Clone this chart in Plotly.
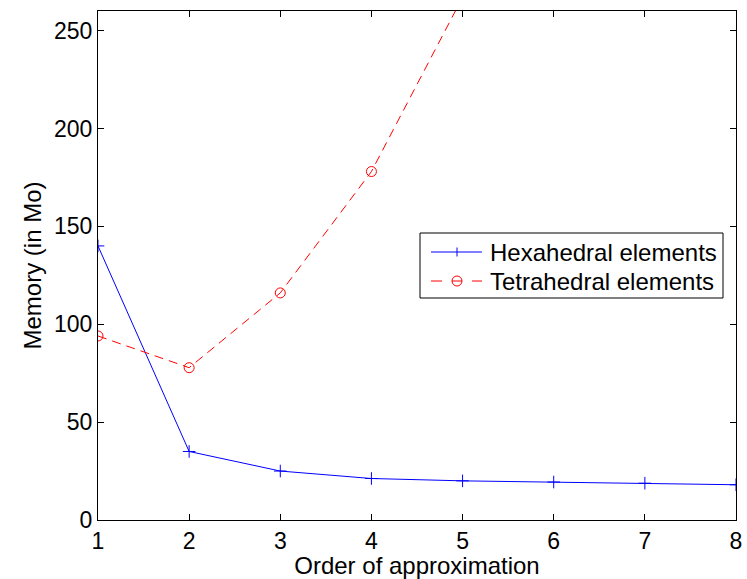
import plotly.graph_objects as go

# Memory use against polynomial order for two mesh types
order_hex = [1, 2, 3, 4, 5, 6, 7, 8]
memory_hex = [140, 35, 25, 21.2, 20, 19.4, 18.8, 18]

order_tet = [1, 2, 3, 4, 5]
memory_tet = [94, 77.8, 116, 178, 267]

series_names = ["Hexahedral elements", "Tetrahedral elements"]

x_ticks = [1, 2, 3, 4, 5, 6, 7, 8]
y_ticks = [0, 50, 100, 150, 200, 250]

FONT = "Liberation Sans, Arial, sans-serif"
W, H = 747, 579
ML, MR, MT, MB = 98, 11, 11, 59
PW, PH = W - ML - MR, H - MT - MB

BLUE, RED = "#0000ff", "#ff0000"


def px_x(px):
    """Pixel column -> paper x."""
    return (px - ML) / PW


def px_y(py):
    """Pixel row -> paper y."""
    return (H - MB - py) / PH


fig = go.Figure()
fig.add_trace(go.Scatter(
    x=order_hex, y=memory_hex, mode="lines+markers",
    name=series_names[0], showlegend=False,
    line=dict(color=BLUE, width=1),
    marker=dict(symbol="cross-thin", size=9, color=BLUE,
                line=dict(color=BLUE, width=1)),
))
fig.add_trace(go.Scatter(
    x=order_tet, y=memory_tet, mode="lines+markers",
    name=series_names[1], showlegend=False,
    line=dict(color=RED, width=1, dash="9px,6px"),
    marker=dict(symbol="circle-open", size=10, color=RED,
                line=dict(color=RED, width=1)),
))

# Boxed legend in the MATLAB style
shapes = []
annotations = []
box = dict(x0=420, x1=723, y0=233, y1=298)
shapes.append(dict(type="rect", xref="paper", yref="paper",
                   x0=px_x(box["x0"]), x1=px_x(box["x1"]),
                   y0=px_y(box["y1"]), y1=px_y(box["y0"]),
                   line=dict(color="black", width=1), fillcolor="white",
                   layer="above"))

rows = [252, 281]
line_x0, line_x1, mark_x, text_x = 431, 482, 457, 488

# row 1: solid line with a plus marker
shapes.append(dict(type="line", xref="paper", yref="paper",
                   x0=px_x(line_x0), x1=px_x(line_x1),
                   y0=px_y(rows[0]), y1=px_y(rows[0]),
                   line=dict(color=BLUE, width=1), layer="above"))
shapes.append(dict(type="line", xref="paper", yref="paper",
                   x0=px_x(mark_x), x1=px_x(mark_x),
                   y0=px_y(rows[0] - 4.5), y1=px_y(rows[0] + 4.5),
                   line=dict(color=BLUE, width=1), layer="above"))

# row 2: dashed line with an open circle
for a, b in [(431, 442), (472, 482)]:
    shapes.append(dict(type="line", xref="paper", yref="paper",
                       x0=px_x(a), x1=px_x(b),
                       y0=px_y(rows[1]), y1=px_y(rows[1]),
                       line=dict(color=RED, width=1), layer="above"))
shapes.append(dict(type="circle", xref="paper", yref="paper",
                   x0=px_x(mark_x - 5), x1=px_x(mark_x + 5),
                   y0=px_y(rows[1] + 5), y1=px_y(rows[1] - 5),
                   line=dict(color=RED, width=1), layer="above"))
shapes.append(dict(type="line", xref="paper", yref="paper",
                   x0=px_x(mark_x - 5), x1=px_x(mark_x + 5),
                   y0=px_y(rows[1]), y1=px_y(rows[1]),
                   line=dict(color=RED, width=1), layer="above"))

for name, row in zip(series_names, rows):
    annotations.append(dict(text=name, xref="paper", yref="paper",
                            x=px_x(text_x), y=px_y(row),
                            xanchor="left", yanchor="middle",
                            showarrow=False,
                            font=dict(family=FONT, size=24, color="black")))

# y-axis title, placed as rotated text left of the tick labels
annotations.append(dict(text="Memory (in Mo)", xref="paper", yref="paper",
                        x=px_x(32), y=0.5, xanchor="center", yanchor="middle",
                        textangle=-90, showarrow=False,
                        font=dict(family=FONT, size=24, color="black")))

axis_common = dict(
    showgrid=False, zeroline=False, showline=True, linecolor="black",
    linewidth=1, mirror="ticks", ticks="inside", ticklen=6,
    tickcolor="black", tickwidth=1, automargin=False,
    tickfont=dict(family=FONT, size=23, color="black"),
)

fig.update_layout(
    width=W, height=H,
    margin=dict(l=ML, r=MR, t=MT, b=MB, autoexpand=False),
    paper_bgcolor="white", plot_bgcolor="white",
    font=dict(family=FONT, size=24, color="black"),
    xaxis=dict(range=[1, 8], tickvals=x_ticks,
               title=dict(text="Order of approximation", font=dict(size=24)),
               **axis_common),
    yaxis=dict(range=[0, 260], tickvals=y_ticks, **axis_common),
    shapes=shapes,
    annotations=annotations,
    showlegend=False,
)

fig.write_html("out.html")
